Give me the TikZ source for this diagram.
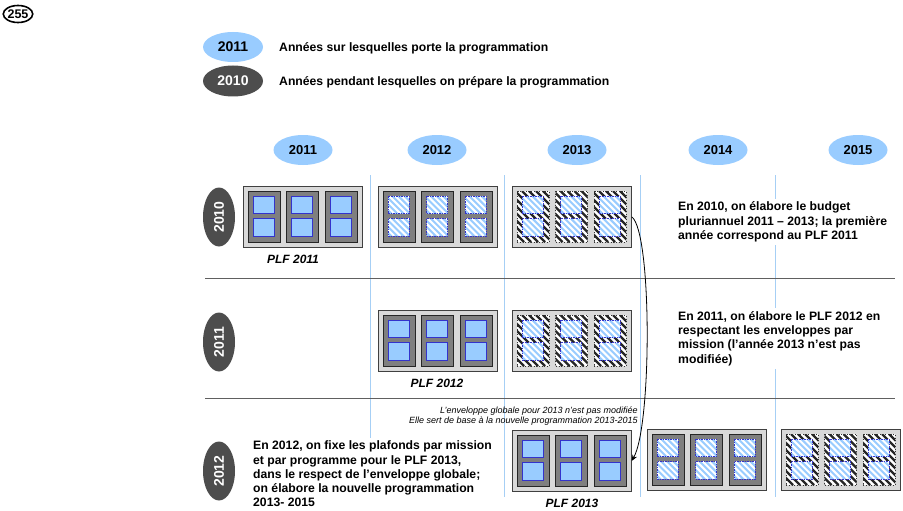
\documentclass[tikz,border=0pt]{standalone}
\usepackage{fontspec}
\setmainfont{Liberation Sans}
\usetikzlibrary{shapes.geometric,arrows.meta}
\definecolor{lblue}{HTML}{99CCFF}
\definecolor{dgray}{HTML}{4D4D4D}
\definecolor{sqblue}{HTML}{99CCFF}
\definecolor{sqedge}{HTML}{3333CC}
\definecolor{panelgray}{HTML}{7F7F7F}
\definecolor{boxgray}{HTML}{D9D9D9}
\definecolor{vlinecol}{HTML}{A6CFF5}
\definecolor{hlinecol}{HTML}{606060}
\tikzset{
  outerbox/.style={draw=black!75, fill=boxgray, line width=0.8pt, minimum width=119pt, minimum height=61pt, inner sep=0pt, anchor=north west},
  solpanel/.style={draw=black!85, fill=panelgray, line width=0.7pt},
  hatpanelborder/.style={draw=black!80, dotted, line width=0.7pt},
  solsq/.style={draw=sqedge, fill=sqblue, line width=0.7pt},
  hatsqborder/.style={draw=sqedge, dash pattern=on 1.5pt off 1pt, line width=0.6pt},
  yearhead/.style={ellipse, fill=lblue, minimum width=59pt, minimum height=30pt, inner sep=0pt, font=\bfseries\fontsize{13}{13}\selectfont},
  legendlight/.style={ellipse, fill=lblue, minimum width=60pt, minimum height=30pt, inner sep=0pt, font=\bfseries\fontsize{14}{14}\selectfont},
  legenddark/.style={ellipse, fill=dgray, text=white, minimum width=60pt, minimum height=31pt, inner sep=0pt, font=\bfseries\fontsize{14}{14}\selectfont},
  yearrow/.style={ellipse, fill=dgray, text=white, rotate=90, minimum width=59pt, minimum height=32pt, inner sep=0pt, font=\bfseries\fontsize{14}{14}\selectfont},
  legendtext/.style={anchor=west, inner sep=0pt, font=\bfseries\fontsize{12.2}{14.3}\selectfont},
  bodytext/.style={anchor=west, align=left, fill=white, inner sep=3pt, font=\bfseries\fontsize{12.2}{14.3}\selectfont},
  notetext/.style={anchor=east, align=right, inner sep=1pt, font=\itshape\fontsize{9}{10}\selectfont},
  plflabel/.style={inner sep=0pt, font=\bfseries\itshape\fontsize{12}{12}\selectfont},
  vline/.style={draw=vlinecol, line width=0.9pt},
  hline/.style={draw=hlinecol, line width=0.9pt},
  badge/.style={draw, ellipse, line width=1.6pt, minimum width=26pt, minimum height=17pt, inner sep=0pt, font=\bfseries\fontsize{12.5}{12.5}\selectfont}
}
% diagonal stripes: x y w h bg fg linewidth step
\newcommand\hatchfill[8]{%
  \begin{scope}
    \clip (#1,#2) rectangle ++(#3,#4);
    \fill[#5] (#1,#2) rectangle ++(#3,#4);
    \foreach \j in {0,...,13}{%
      \draw[#6, line width=#7] (#1-#4+\j*#8, #2) -- ++(#4,#4);
    }%
  \end{scope}%
}
\newcommand\panelsolid[2]{\path[solpanel] (#1,#2) rectangle ++(32,51);}
\newcommand\panelhatch[2]{\hatchfill{#1}{#2}{32}{51}{white}{black!85}{2.4pt}{7}\path[hatpanelborder] (#1,#2) rectangle ++(32,51);}
\newcommand\sqsolid[2]{\path[solsq] (#1,#2) rectangle ++(21,17.5);}
\newcommand\sqhatch[2]{\hatchfill{#1}{#2}{21}{17.5}{sqblue}{white}{2pt}{6.2}\path[hatsqborder] (#1,#2) rectangle ++(21,17.5);}
% #1 name, #2 x, #3 y (top left), #4 panel macro, #5 square macro
\newcommand\budgetbox[5]{%
  \node[outerbox] (#1) at (#2,#3) {};
  \foreach \i in {0,1,2}{%
    #4{#2+5+\i*38.5}{#3+5}%
    #5{#2+10+\i*38.5}{#3+10}%
    #5{#2+10+\i*38.5}{#3+32.5}%
  }%
}
\begin{document}
\begin{tikzpicture}[x=1pt,y=-1pt]
\useasboundingbox (0,0) rectangle (903,511);
% badge
\node[badge] (pagebadge) at (18,14) {255};
% legend
\node[legendlight] (leg1) at (233,47) {2011};
\node[legendtext] (leg1t) at (279,48) {Années sur lesquelles porte la programmation};
\node[legenddark] (leg2) at (233,81) {2010};
\node[legendtext] (leg2t) at (279,82) {Années pendant lesquelles on prépare la programmation};
% column headers
\node[yearhead] (h2011) at (303,150) {2011};
\node[yearhead] (h2012) at (437,150) {2012};
\node[yearhead] (h2013) at (577,150) {2013};
\node[yearhead] (h2014) at (718,150) {2014};
\node[yearhead] (h2015) at (858,150) {2015};
% grid lines
\foreach \x in {370,504,640,775} \draw[vline] (\x,175) -- (\x,497);
\draw[hline] (205,278) -- (895,278);
\draw[hline] (205,398) -- (895,398);
% row labels
\node[yearrow] (r2010) at (219,217) {2010};
\node[yearrow] (r2011) at (219,342) {2011};
\node[yearrow] (r2012) at (219,471) {2012};
% texts
\node[bodytext] (t1) at (675,222) {En 2010, on élabore le budget\\pluriannuel 2011 – 2013; la première\\année correspond au PLF 2011};
\node[bodytext] (t2) at (675,338.5) {En 2011, on élabore le PLF 2012 en\\respectant les enveloppes par\\mission (l’année 2013 n’est pas\\modifiée)};
\node[bodytext] (t3) at (250,474) {En 2012, on fixe les plafonds par mission\\et par programme pour le PLF 2013,\\dans le respect de l’enveloppe globale;\\on élabore la nouvelle programmation\\2013- 2015};
\node[notetext] (note) at (639,416) {L’enveloppe globale pour 2013 n’est pas modifiée\\Elle sert de base à la nouvelle programmation 2013-2015};
% boxes row 1
\budgetbox{a1}{243}{186}{\panelsolid}{\sqsolid}
\budgetbox{a2}{378}{186}{\panelsolid}{\sqhatch}
\budgetbox{a3}{512}{186}{\panelhatch}{\sqhatch}
% boxes row 2
\budgetbox{b2}{378}{310}{\panelsolid}{\sqsolid}
\budgetbox{b3}{512}{310}{\panelhatch}{\sqhatch}
% boxes row 3
\budgetbox{c3}{512}{430}{\panelsolid}{\sqsolid}
\budgetbox{c4}{647}{429}{\panelsolid}{\sqhatch}
\budgetbox{c5}{781}{429}{\panelhatch}{\sqhatch}
% PLF labels
\node[plflabel] (plf1) at (293,259) {PLF 2011};
\node[plflabel] (plf2) at (437,383) {PLF 2012};
\node[plflabel] (plf3) at (572,503) {PLF 2013};
% arrow
\draw[-{Stealth[length=6pt,width=5pt]}, line width=0.8pt] (a3.east) .. controls (652,232) and (652,425) .. (c3.east);
\end{tikzpicture}
\end{document}
